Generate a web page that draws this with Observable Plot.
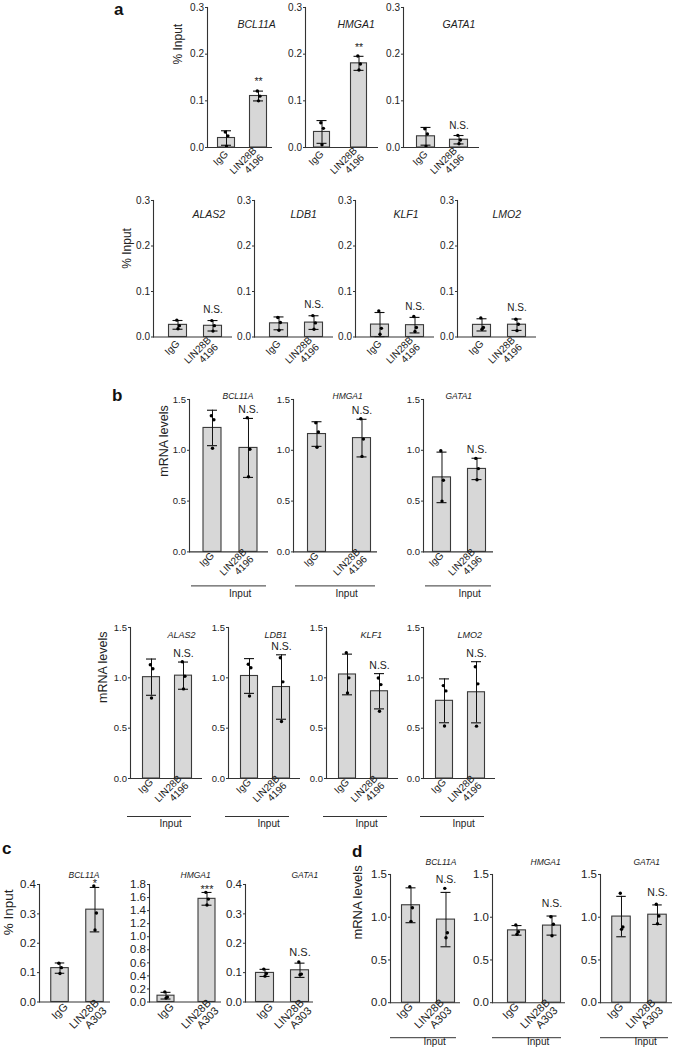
<!DOCTYPE html>
<html><head><meta charset="utf-8">
<script src="https://cdn.jsdelivr.net/npm/d3@7"></script>
<script src="https://cdn.jsdelivr.net/npm/@observablehq/plot@0.6"></script>
<style>
body{margin:0;background:#fff;font-family:"Liberation Sans",Arial,Helvetica,sans-serif;}
#fig{position:relative;width:680px;height:1050px;overflow:hidden;}
#fig svg{position:absolute;}
</style></head><body><div id="fig"></div>
<script>
// ---------------- data ----------------
const groups = ["IgG", "LIN28B"];
const xLabels4196 = ["IgG", "LIN28B\n4196"];
const xLabelsA303 = ["IgG", "LIN28B\nA303"];
const ticksChip = [0, 0.1, 0.2, 0.3];
const ticksChipC = [0, 0.1, 0.2, 0.3, 0.4];
const ticksChipCHMGA1 = [0, 0.2, 0.4, 0.6, 0.8, 1.0, 1.2, 1.4, 1.6, 1.8];
const ticksMrna = [0, 0.5, 1.0, 1.5];

// panel a, top row (% Input)
const genesA1 = ["BCL11A", "HMGA1", "GATA1"];
const iggA1 = [[0.033, 0.025, 0.003], [0.053, 0.041, 0.006], [0.040, 0.029, 0.003]];
const linA1 = [[0.121, 0.110, 0.100], [0.196, 0.179, 0.166], [0.026, 0.016, 0.008]];
const sigA1 = ["**", "**", "N.S."];
// panel a, bottom row
const genesA2 = ["ALAS2", "LDB1", "KLF1", "LMO2"];
const iggA2 = [[0.037, 0.025, 0.018], [0.043, 0.032, 0.015], [0.057, 0.019, 0.006], [0.042, 0.021, 0.017]];
const linA2 = [[0.036, 0.025, 0.013], [0.047, 0.031, 0.017], [0.045, 0.021, 0.012], [0.039, 0.028, 0.014]];
const sigA2 = ["N.S.", "N.S.", "N.S.", "N.S."];
// panel b, top row (mRNA levels)
const genesB1 = ["BCL11A", "HMGA1", "GATA1"];
const iggB1 = [[1.34, 1.30, 1.02], [1.27, 1.18, 1.03], [0.995, 0.705, 0.50]];
const linB1 = [[1.32, 1.01, 0.74], [1.31, 1.11, 0.94], [0.92, 0.82, 0.71]];
const sigB1 = ["N.S.", "N.S.", "N.S."];
// panel b, bottom row
const genesB2 = ["ALAS2", "LDB1", "KLF1", "LMO2"];
const iggB2 = [[1.13, 1.09, 0.80], [1.135, 1.10, 0.82], [1.25, 1.00, 0.85], [0.923, 0.87, 0.522]];
const linB2 = [[1.16, 1.015, 0.89], [1.20, 0.96, 0.566], [0.999, 0.933, 0.668], [1.11, 0.94, 0.52]];
const sigB2 = ["N.S.", "N.S.", "N.S.", "N.S."];
// panel c (% Input, A303)
const genesC = ["BCL11A", "HMGA1", "GATA1"];
const iggC = [[0.132, 0.117, 0.097], [0.155, 0.075, 0.06], [0.112, 0.097, 0.088]];
const linC = [[0.395, 0.303, 0.245], [1.68, 1.576, 1.485], [0.136, 0.095, 0.093]];
const sigC = ["*", "***", "N.S."];
// panel d (mRNA levels, A303)
const genesD = ["BCL11A", "HMGA1", "GATA1"];
const iggD = [[1.357, 1.111, 0.952], [0.909, 0.83, 0.80], [1.28, 0.885, 0.858]];
const linD = [[1.338, 0.819, 0.76], [1.006, 0.917, 0.784], [1.151, 1.014, 0.924]];
const sigD = ["N.S.", "N.S.", "N.S."];

// ---------------- layout ----------------
const FONT = "'Liberation Sans', Arial, Helvetica, sans-serif";
const rows = [
  {genes: genesA1, igg: iggA1, lin: linA1, sig: sigA1, xLabels: xLabels4196,
   ticks: [ticksChip, ticksChip, ticksChip], yLabel: "% Input",
   yTop: 7, yBot: 147, titleDy: 13, titleFont: 10.5, tickFont: 10, xFont: 10, xPad: 5, xDx: 0,
   yLabelDx: -29, yLabelDy: -13, yLabelFont: 12, sigDy: -9.5, starDy: -9, sigFont: 10, starFont: 10.5,
   panels: [{ax: 207, w: 65, c1: 19, c2: 51, bw: 17, tx: 30},
            {ax: 305, w: 73, c1: 16, c2: 53, bw: 16, tx: 32},
            {ax: 403, w: 76, c1: 22, c2: 55, bw: 18, tx: 39}]},
  {genes: genesA2, igg: iggA2, lin: linA2, sig: sigA2, xLabels: xLabels4196,
   ticks: [ticksChip, ticksChip, ticksChip, ticksChip], yLabel: "% Input",
   yTop: 200, yBot: 336.5, titleDy: 10.5, titleFont: 10.5, tickFont: 10, xFont: 10, xPad: 5, xDx: 0,
   yLabelDx: -26, yLabelDy: 0, yLabelFont: 12, sigDy: -11, starDy: -9, sigFont: 10, starFont: 10,
   panels: [153, 254, 355, 457].map((ax, i) => ({ax, w: 79, c1: 24, c2: 59, bw: 18, tx: [39, 36, 38, 35][i]}))},
  {genes: genesB1, igg: iggB1, lin: linB1, sig: sigB1, xLabels: xLabels4196,
   ticks: [ticksMrna, ticksMrna, ticksMrna], yLabel: "mRNA levels",
   yTop: 399.3, yBot: 551.7, titleDy: -7, titleFont: 8.5, tickFont: 9.5, xFont: 10, xPad: 2, xDx: 0,
   yLabelDx: -26, yLabelDy: 1, yLabelFont: 12.5, sigDy: -9, starDy: -9, sigFont: 10.5, starFont: 10,
   input: {lineDy: 34, textDy: 45, l: 2, r: 2},
   panels: [{ax: 189.3, w: 79, c1: 23, c2: 59, bw: 18, tx: 33},
            {ax: 292.7, w: 84, c1: 23, c2: 68, bw: 18, tx: 39},
            {ax: 422.7, w: 70, c1: 18, c2: 53, bw: 18, tx: 22}]},
  {genes: genesB2, igg: iggB2, lin: linB2, sig: sigB2, xLabels: xLabels4196,
   ticks: [ticksMrna, ticksMrna, ticksMrna, ticksMrna], yLabel: "mRNA levels",
   yTop: 627.3, yBot: 778.3, titleDy: 4, titleFont: 9, tickFont: 9.5, xFont: 10, xPad: 2, xDx: 0,
   yLabelDx: -28, yLabelDy: 0, yLabelFont: 12.5, sigDy: -8, starDy: -8, sigFont: 10.5, starFont: 10,
   input: {lineDy: 38, textDy: 48, l: -3, r: 11},
   panels: [130, 228.3, 325.7, 422.7].map((ax, i) => ({ax, w: 72, c1: 20.5, c2: 52.5, bw: 17, tx: [37, 36, 34, 34][i]}))},
  {genes: genesC, igg: iggC, lin: linC, sig: sigC, xLabels: xLabelsA303,
   ticks: [ticksChipC, ticksChipCHMGA1, ticksChipC], yLabel: "% Input",
   yTop: 883.5, yBot: 1001, titleDy: -13, titleFont: 8.5, tickFont: 11.5, xFont: 11, xPad: 3, xDx: 6,
   yLabelDx: -31, yLabelDy: -8, yLabelFont: 13.5, sigDy: -11, starDy: -3.5, sigFont: 11, starFont: 11,
   panels: [{ax: 39, w: 71, c1: 20, c2: 55.5, bw: 18, tx: 29},
            {ax: 149, w: 72, c1: 16, c2: 57, bw: 17, tx: 31},
            {ax: 245, w: 68, c1: 19, c2: 54, bw: 18, tx: 46}]},
  {genes: genesD, igg: iggD, lin: linD, sig: sigD, xLabels: xLabelsA303,
   ticks: [ticksMrna, ticksMrna, ticksMrna], yLabel: "mRNA levels",
   yTop: 873.5, yBot: 1001.7, titleDy: -15.5, titleFont: 8.5, tickFont: 11.5, xFont: 11, xPad: 2, xDx: 0,
   yLabelDx: -33, yLabelDy: 1, yLabelFont: 13, sigDy: -12.5, starDy: -10, sigFont: 10.5, starFont: 10.5,
   input: {lineDy: 35, textDy: 42, l: 0, r: 4},
   panels: [{ax: 390, w: 70, c1: 20, c2: 55, bw: 18, tx: 35},
            {ax: 491.7, w: 73, c1: 24, c2: 59, bw: 18, tx: 38},
            {ax: 600, w: 72, c1: 21, c2: 57.5, bw: 19, tx: 33}]}
];
const jitter = [-1.2, 1.4, 0];
const fig = document.getElementById("fig");

function makePanel(row, i) {
  const L = row.panels[i];
  const reps = [row.igg[i], row.lin[i]];
  const pts = [];
  groups.forEach((g, gi) => reps[gi].forEach((v, r) => pts.push({group: g, value: v, rep: r})));
  const summ = groups.map((g, gi) => {
    const m = d3.mean(reps[gi]), s = d3.deviation(reps[gi]);
    return {group: g, mean: m, lo: m - s, hi: m + s};
  });
  const ticks = row.ticks[i];
  const ML = 45, MR = 8, MT = 28, MB = 62;
  const ph = row.yBot - row.yTop;
  const width = ML + L.w + MR, height = MT + ph + MB;
  const step = L.c2 - L.c1;
  const barIns = (step - L.bw) / 2, capIns = (step - 10) / 2;
  const sig = row.sig[i];
  const star = sig.startsWith("*");
  const marks = [
    Plot.barY(summ, {x: "group", y: "mean", fill: "#d7d7d7", stroke: "#3a3a3a", strokeWidth: 1.1, insetLeft: barIns, insetRight: barIns}),
    Plot.ruleX(summ, {x: "group", y1: "lo", y2: "hi", stroke: "#111", strokeWidth: 1}),
    Plot.tickY(summ, {x: "group", y: "hi", stroke: "#111", strokeWidth: 1.1, insetLeft: capIns, insetRight: capIns}),
    Plot.tickY(summ, {x: "group", y: "lo", stroke: "#111", strokeWidth: 1.1, insetLeft: capIns, insetRight: capIns}),
    ...[0, 1, 2].map(r => Plot.dot(pts.filter(p => p.rep === r), {x: "group", y: "value", r: 1.7, fill: "#000", stroke: "none", dx: jitter[r]})),
    Plot.ruleY([0], {stroke: "#333", strokeWidth: 1.1}),
    Plot.frame({anchor: "left", stroke: "#333", strokeWidth: 1.1}),
    Plot.axisY({ticks, tickFormat: d3.format(".1f"), tickSize: 2, tickPadding: 1.5, fontSize: row.tickFont, label: null, stroke: "#333", fill: "#222"}),
    Plot.axisX({tickRotate: -45, tickSize: 0, tickPadding: row.xPad, dx: row.xDx, tickFormat: d => row.xLabels[groups.indexOf(d)], fontSize: row.xFont, label: null, fill: "#222"}),
    Plot.text([row.genes[i]], {text: d => d, frameAnchor: "top-left", dx: L.tx, dy: row.titleDy, fontStyle: "italic", fontSize: row.titleFont, fill: "#222"}),
    Plot.text(summ.filter(d => d.group === "LIN28B"), {x: "group", y: "hi", text: () => sig, dy: star ? row.starDy : row.sigDy, fontSize: star ? row.starFont : row.sigFont, fill: "#222"})
  ];
  if (i === 0) {
    marks.push(Plot.text([row.yLabel], {text: d => d, frameAnchor: "left", dx: row.yLabelDx, dy: row.yLabelDy, rotate: -90, fontSize: row.yLabelFont, fill: "#222"}));
  }
  if (row.input) {
    const inp = row.input;
    marks.push(Plot.ruleY([0], {dy: inp.lineDy, insetLeft: inp.l, insetRight: inp.r, stroke: "#333", strokeWidth: 1}));
    marks.push(Plot.text(["Input"], {text: d => d, frameAnchor: "bottom-left", dx: (inp.l + L.w - inp.r) / 2, dy: inp.textDy, fontSize: 10, fill: "#222"}));
  }
  const svg = Plot.plot({
    width, height, marginLeft: ML, marginRight: MR, marginTop: MT, marginBottom: MB,
    style: {background: "transparent", overflow: "visible", fontFamily: FONT, fontSize: "10px", color: "#222"},
    x: {domain: groups, range: [ML + L.c1 - step / 2, ML + L.c2 + step / 2], padding: 0},
    y: {domain: [0, ticks[ticks.length - 1]]},
    marks
  });
  svg.style.left = (L.ax - ML) + "px";
  svg.style.top = (row.yTop - MT) + "px";
  fig.appendChild(svg);
}

rows.forEach(row => row.panels.forEach((_, i) => makePanel(row, i)));

// panel letters
const panelLetters = ["a", "b", "c", "d"];
const letterPos = [[114, 15], [112, 401], [2, 854], [352, 857]];
const over = d3.create("svg").attr("width", 680).attr("height", 1050).style("left", "0px").style("top", "0px").style("pointer-events", "none");
over.selectAll("text").data(panelLetters).join("text")
  .attr("x", (d, i) => letterPos[i][0]).attr("y", (d, i) => letterPos[i][1])
  .attr("font-family", FONT).attr("font-weight", "bold").attr("font-size", 17).attr("fill", "#111")
  .text(d => d);
fig.appendChild(over.node());
</script></body></html>
